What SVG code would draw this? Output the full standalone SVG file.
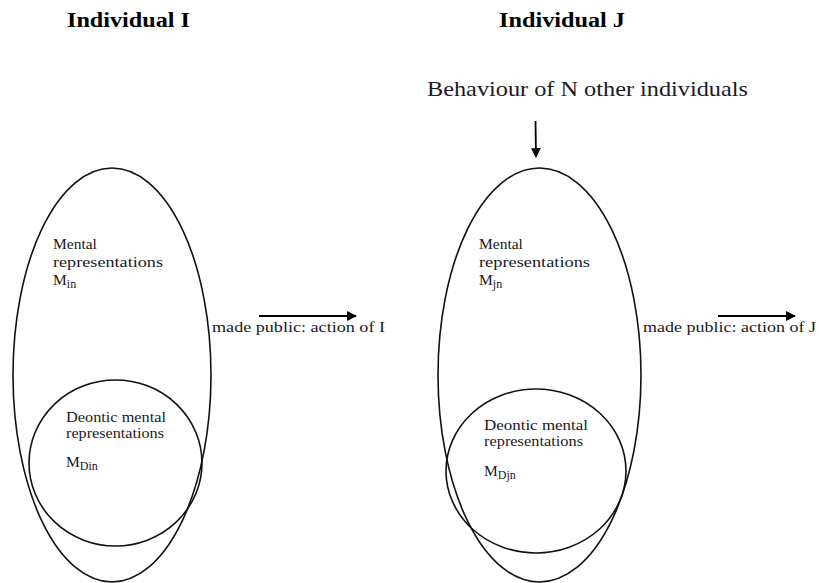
<svg xmlns="http://www.w3.org/2000/svg" width="819" height="583" viewBox="0 0 819 583">
<style>
.shape{fill:none;stroke:#111;stroke-width:1.6}
.t{font-family:'Liberation Serif','DejaVu Serif','Noto Serif',serif;fill:#1a1a26}
.title{font-size:20px;font-weight:bold;fill:#000}
.big{font-size:21px}
.lab{font-size:15.5px}
.sub{font-size:12px}
.conn{stroke:#000;stroke-width:1.8;fill:none}
</style>
<defs>
<marker id="ah" viewBox="0 0 10 10" refX="9" refY="5" markerWidth="6" markerHeight="5.5" orient="auto" markerUnits="strokeWidth">
<path d="M0,0 L10,5 L0,10 z" fill="#000"/>
</marker>
</defs>
<rect width="819" height="583" fill="#fff"/>
<text class="t title" font-family="Liberation Serif, serif" x="67" y="27" textLength="123" lengthAdjust="spacingAndGlyphs">Individual I</text>
<text class="t title" x="499" y="27" textLength="126" lengthAdjust="spacingAndGlyphs">Individual J</text>
<text class="t big" x="427" y="96" textLength="321" lengthAdjust="spacingAndGlyphs">Behaviour of N other individuals</text>

<g id="individual-i">
<ellipse class="shape" cx="112" cy="375" rx="99" ry="207"/>
<text class="t lab" x="53" y="249">Mental</text>
<text class="t lab" x="53" y="267" textLength="110" lengthAdjust="spacingAndGlyphs">representations</text>
<text class="t lab" x="53" y="285">M<tspan class="sub" dy="3">in</tspan></text>
</g>
<g id="deontic-i">
<ellipse class="shape" cx="115.5" cy="463" rx="86.5" ry="83"/>
<text class="t lab" x="66" y="422" textLength="100" lengthAdjust="spacingAndGlyphs">Deontic mental</text>
<text class="t lab" x="66" y="438" textLength="98" lengthAdjust="spacingAndGlyphs">representations</text>
<text class="t lab" x="66" y="467">M<tspan class="sub" dy="3">Din</tspan></text>
</g>
<g id="individual-j">
<ellipse class="shape" cx="539.5" cy="375" rx="101.5" ry="207"/>
<text class="t lab" x="479" y="249">Mental</text>
<text class="t lab" x="479" y="267" textLength="111" lengthAdjust="spacingAndGlyphs">representations</text>
<text class="t lab" x="479" y="285">M<tspan class="sub" dy="3">jn</tspan></text>
</g>
<g id="deontic-j">
<ellipse class="shape" cx="536" cy="471" rx="90" ry="82"/>
<text class="t lab" x="484" y="430" textLength="104" lengthAdjust="spacingAndGlyphs">Deontic  mental</text>
<text class="t lab" x="484" y="446" textLength="99" lengthAdjust="spacingAndGlyphs">representations</text>
<text class="t lab" x="484" y="476">M<tspan class="sub" dy="3">Djn</tspan></text>
</g>
<g id="output-i">
<text class="t lab" x="212" y="332" textLength="173" lengthAdjust="spacingAndGlyphs">made public: action of I</text>
</g>
<g id="output-j">
<text class="t lab" x="643" y="332" textLength="173" lengthAdjust="spacingAndGlyphs">made public: action of J</text>
</g>
<g id="connectors">
<line class="conn" x1="259" y1="316" x2="356" y2="316" marker-end="url(#ah)"/>
<line class="conn" x1="718" y1="316" x2="795" y2="316" marker-end="url(#ah)"/>
<line class="conn" x1="535.5" y1="121" x2="536" y2="157" marker-end="url(#ah)"/>
</g>
</svg>
